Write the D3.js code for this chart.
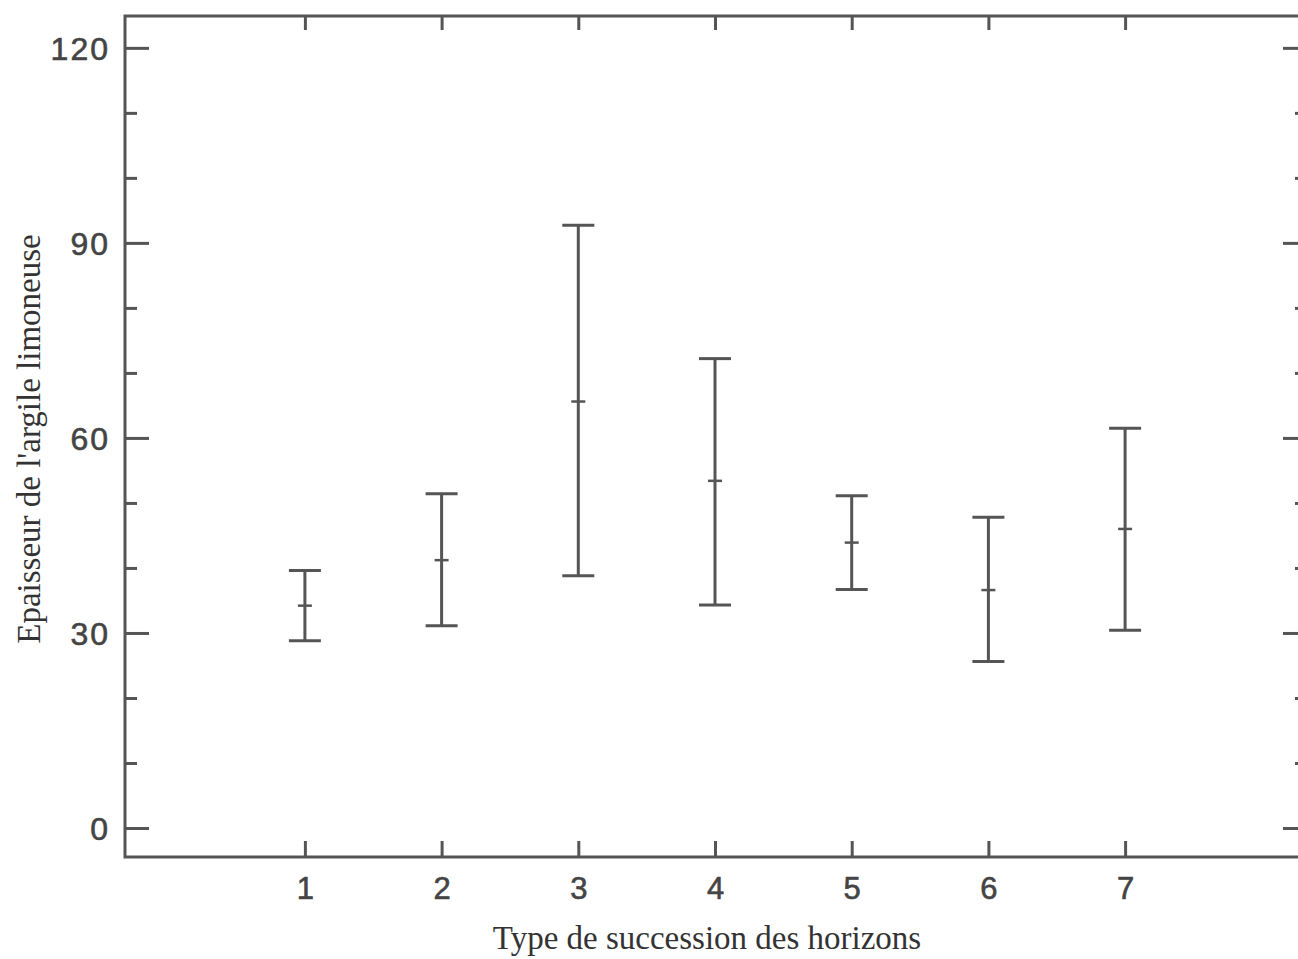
<!DOCTYPE html>
<html>
<head>
<meta charset="utf-8">
<script src="https://cdn.jsdelivr.net/npm/d3@7"></script>
<style>
  body { margin: 0; background: #fff; }
  .tick text { font-family: "Liberation Sans", Arial, sans-serif; fill: #444; stroke: #444; stroke-width: 0.6; }
  .axis-title { font-family: "Liberation Serif", "Times New Roman", serif; fill: #333; }
</style>
</head>
<body>
<svg id="chart" width="1298" height="959"></svg>
<script>
// Types de succession (abscisse)
const types = [1, 2, 3, 4, 5, 6, 7];
// Valeurs : borne haute, moyenne, borne basse
const hauts   = [39.6, 51.4, 92.7, 72.2, 51.1, 47.8, 61.5];
const moyens  = [34.2, 41.2, 65.6, 53.4, 43.9, 36.6, 46.0];
const bas     = [28.8, 31.1, 38.8, 34.3, 36.7, 25.6, 30.4];

const yMajeurs = [0, 30, 60, 90, 120];
const yMineurs = [10, 20, 40, 50, 70, 80, 100, 110];

const col = '#555';
const svg = d3.select('#chart');

const mLeft = 125, mRight = 1305, mTop = 16, mBottom = 857;

const x = d3.scaleLinear().domain([-0.316, 8.316]).range([mLeft, mRight]);
const y = d3.scaleLinear().domain([-4.46, 124.9]).range([mBottom, mTop]);

// Cadre
svg.append('rect')
    .attr('x', mLeft).attr('y', mTop)
    .attr('width', mRight - mLeft).attr('height', mBottom - mTop)
    .attr('fill', 'none').attr('stroke', col).attr('stroke-width', 3);

// Axe gauche : graduations majeures avec étiquettes
const axeG = svg.append('g')
    .attr('transform', `translate(${mLeft},0)`)
    .call(d3.axisLeft(y).tickValues(yMajeurs).tickSize(-24).tickPadding(15).tickFormat(d3.format('d')));
axeG.selectAll('.tick text').attr('font-size', 32).attr('letter-spacing', 2).attr('dy', '0.36em');

// Graduations mineures gauche
svg.append('g')
    .attr('transform', `translate(${mLeft},0)`)
    .call(d3.axisLeft(y).tickValues(yMineurs).tickSize(-12).tickFormat(''));

// Axe droit
svg.append('g')
    .attr('transform', `translate(${mRight},0)`)
    .call(d3.axisRight(y).tickValues(yMajeurs).tickSize(-22).tickFormat(''));
svg.append('g')
    .attr('transform', `translate(${mRight},0)`)
    .call(d3.axisRight(y).tickValues(yMineurs).tickSize(-10).tickFormat(''));

// Axe bas
const axeB = svg.append('g')
    .attr('transform', `translate(0,${mBottom})`)
    .call(d3.axisBottom(x).tickValues(types).tickSize(-16).tickPadding(20).tickFormat(d3.format('d')));
axeB.selectAll('.tick text').attr('font-size', 31);

// Axe haut
svg.append('g')
    .attr('transform', `translate(0,${mTop})`)
    .call(d3.axisTop(x).tickValues(types).tickSize(-14).tickFormat(''));

svg.selectAll('.domain').remove();
svg.selectAll('.tick line').attr('stroke', col).attr('stroke-width', 3);

// Barres d'erreur
const capW = 16, midW = 7;
const g = svg.append('g').attr('stroke', col).attr('stroke-width', 3);
types.forEach((t, i) => {
    const cx = x(t);
    g.append('line').attr('x1', cx).attr('x2', cx).attr('y1', y(hauts[i])).attr('y2', y(bas[i]));
    g.append('line').attr('x1', cx - capW).attr('x2', cx + capW).attr('y1', y(hauts[i])).attr('y2', y(hauts[i]));
    g.append('line').attr('x1', cx - capW).attr('x2', cx + capW).attr('y1', y(bas[i])).attr('y2', y(bas[i]));
    g.append('line').attr('x1', cx - midW).attr('x2', cx + midW).attr('y1', y(moyens[i])).attr('y2', y(moyens[i]))
        .attr('stroke-width', 2.5);
});

// Titres
svg.append('text')
    .attr('class', 'axis-title')
    .attr('x', 707).attr('y', 949)
    .attr('text-anchor', 'middle')
    .attr('font-size', 33)
    .text('Type de succession des horizons');

svg.append('text')
    .attr('class', 'axis-title')
    .attr('transform', 'translate(40,439) rotate(-90)')
    .attr('text-anchor', 'middle')
    .attr('font-size', 33)
    .text("Epaisseur de l'argile limoneuse");
</script>
</body>
</html>
